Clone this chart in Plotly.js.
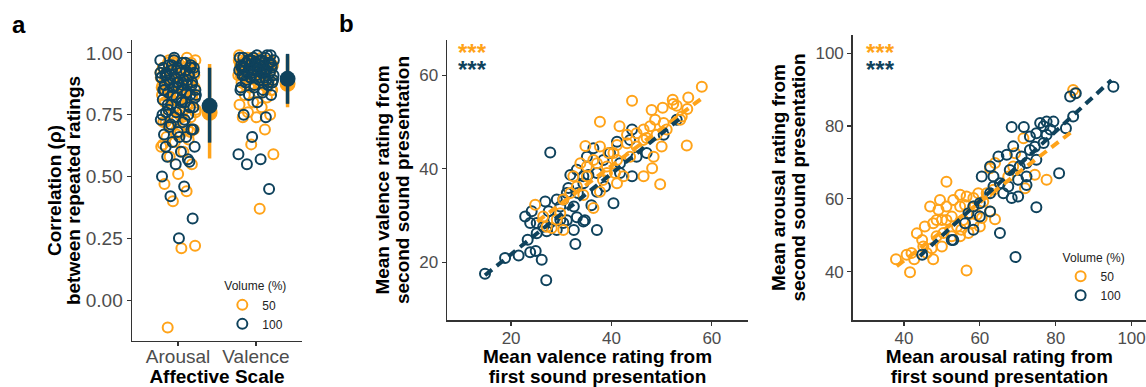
<!DOCTYPE html>
<html>
<head>
<meta charset="utf-8">
<script src="https://cdn.plot.ly/plotly-3.0.1.min.js"></script>
<style>
html,body{margin:0;padding:0;background:#fff;}
#plot{width:1146px;height:387px;}
</style>
</head>
<body>
<div id="plot"></div>
<script>
// ---------- DATA ----------
const scales = ['Arousal', 'Valence'];
const volumes = ['50', '100'];

// Panel a: per-participant correlations between repeated ratings
const arousal50 = [0.98,0.97,0.97,0.96,0.96,0.95,0.95,0.94,0.94,0.93,0.93,0.92,0.92,0.91,0.91,0.90,0.90,0.89,0.89,0.88,0.88,0.87,0.87,0.86,0.86,0.85,0.85,0.84,0.83,0.83,0.82,0.81,0.80,0.80,0.79,0.78,0.77,0.76,0.75,0.74,0.73,0.72,0.71,0.70,0.69,0.68,0.66,0.65,0.64,0.62,0.60,0.58,0.55,0.51,0.47,0.44,0.40,0.22,0.21,-0.11,0.93,0.90,0.87,0.84,0.81,0.78,0.75,0.72,0.69,0.96,0.92,0.88,0.97,0.96,0.95,0.94,0.93,0.92,0.91,0.90,0.89,0.88,0.87,0.86,0.85,0.84,0.83,0.82,0.80,0.79,0.77,0.76,0.74,0.71,0.68,0.67,0.63];
const arousal100 = [0.97,0.97,0.96,0.95,0.95,0.94,0.94,0.93,0.93,0.92,0.92,0.91,0.91,0.90,0.90,0.89,0.89,0.88,0.88,0.87,0.87,0.86,0.85,0.85,0.84,0.83,0.82,0.81,0.80,0.79,0.78,0.77,0.76,0.75,0.74,0.73,0.72,0.70,0.69,0.68,0.67,0.66,0.64,0.62,0.60,0.58,0.56,0.55,0.50,0.46,0.42,0.33,0.25,0.91,0.89,0.86,0.83,0.80,0.77,0.94,0.88,0.85,0.96,0.95,0.94,0.93,0.92,0.91,0.90,0.90,0.89,0.88,0.87,0.86,0.85,0.84,0.83,0.82,0.81,0.79,0.78,0.76,0.75,0.73,0.71,0.69,0.66,0.62,0.57,0.98,0.92,0.87];
const valence50 = [0.99,0.98,0.98,0.97,0.97,0.96,0.96,0.96,0.95,0.95,0.95,0.94,0.94,0.94,0.93,0.93,0.93,0.92,0.92,0.92,0.91,0.91,0.90,0.90,0.89,0.89,0.88,0.87,0.86,0.85,0.84,0.83,0.82,0.80,0.79,0.78,0.76,0.75,0.74,0.74,0.69,0.63,0.59,0.37,0.97,0.95,0.93,0.91,0.89,0.87,0.85,0.96,0.94,0.92,0.98,0.97,0.96,0.95,0.94,0.93,0.92,0.91,0.90,0.89,0.88,0.87,0.86,0.96,0.95,0.93,0.91];
const valence100 = [0.99,0.99,0.98,0.98,0.97,0.97,0.97,0.96,0.96,0.96,0.95,0.95,0.95,0.94,0.94,0.94,0.93,0.93,0.93,0.92,0.92,0.92,0.91,0.91,0.90,0.90,0.89,0.89,0.88,0.87,0.86,0.85,0.84,0.83,0.83,0.80,0.75,0.74,0.66,0.59,0.57,0.55,0.45,0.96,0.94,0.92,0.90,0.88,0.95,0.93,0.99,0.98,0.98,0.97,0.97,0.96,0.95,0.94,0.93,0.92,0.91,0.90,0.89,0.88,0.87,0.86,0.85,0.97,0.95,0.93,0.91,0.89];

// Panel a summaries (mean and interval), order = scales
const mean50 = [0.758, 0.875];
const lo50 = [0.573, 0.780];
const hi50 = [0.955, 0.990];
const mean100 = [0.786, 0.895];
const lo100 = [0.637, 0.794];
const hi100 = [0.940, 0.996];

// Panel b: valence, first vs second presentation
const valFirst50 = [58.0,55.3,52.2,52.3,50.2,55.1,48.0,44.1,37.7,53.7,55.0,50.4,48.7,47.7,46.4,41.6,47.0,50.0,48.4,48.1,49.7,46.4,43.1,41.1,37.7,34.8,45.0,43.7,41.1,39.1,37.1,40.7,42.4,41.1,37.7,36.4,34.4,38.3,33.1,30.4,29.8,28.1,30.4,24.8,26.4,32.4,35.1,39.4,45.0,43.1,46.4,51.0,49.0,54.0,53.0,40.4,36.4,33.8,31.8,29.1,27.1,35.1,39.1];
const valSecond50 = [57.6,55.3,54.8,53.9,53.1,52.8,52.6,54.6,50.1,50.5,45.0,49.8,50.5,49.1,48.4,49.1,46.6,44.8,42.6,40.1,36.7,38.4,45.5,45.1,44.8,44.9,44.8,42.6,41.9,40.5,41.2,39.1,38.4,36.9,35.1,31.6,34.4,37.6,36.2,33.4,30.5,27.3,26.9,32.3,29.8,38.4,40.5,43.4,47.6,47.3,46.2,48.4,47.3,51.2,53.5,43.4,41.9,41.2,34.8,29.1,27.6,38.4,39.1];
const valFirst100 = [14.8,18.8,21.5,23.8,24.9,26.1,27.0,23.3,22.8,24.1,25.1,23.8,26.8,27.8,27.1,29.8,30.4,32.8,32.5,34.4,37.1,40.4,33.1,31.4,31.8,33.1,35.1,36.4,35.4,37.1,38.7,39.7,41.7,43.7,44.1,45.0,44.1,50.4,53.0,41.1,34.4,33.3,31.1,29.8,28.4,26.4,25.1,34.4,32.5,30.4,29.1,37.1,38.4,41.7,47.0,36.0,34.7,31.1,29.1,27.5];
const valSecond100 = [17.5,20.9,21.4,22.1,22.4,20.5,16.1,24.8,29.8,30.9,28.4,28.4,33.0,43.5,26.6,31.9,28.4,23.9,26.9,28.7,26.9,32.6,29.6,35.9,38.7,39.8,42.6,44.4,38.7,35.1,36.2,43.4,39.1,46.2,48.4,42.6,38.4,47.3,50.5,45.8,36.9,34.8,34.8,29.1,29.1,27.6,26.2,38.4,31.9,33.4,33.4,39.1,41.9,41.2,43.4,32.2,29.0,29.0,26.9,30.9];
const valFitX50 = [25.2, 58.0], valFitY50 = [28.7, 55.1];
const valFitX100 = [14.8, 53.7], valFitY100 = [17.2, 50.8];

// Panel c: arousal, first vs second presentation
const arFirst50 = [37.9,40.7,41.6,42.7,47.7,45.1,44.8,45.5,47.7,48.6,50.4,47.3,50.0,51.2,49.1,51.2,52.6,51.2,50.0,54.0,54.8,55.6,56.5,56.1,58.3,59.6,59.2,60.0,60.9,62.7,64.0,63.6,64.0,62.7,56.5,54.8,53.0,58.3,57.0,71.5,71.9,74.5,77.6,84.6,85.1,69.3,68.8,67.5,61.8,46.0,43.4,46.9,49.5,54.8,58.3,52.6,48.6,42.0,55.1,60.5];
const arSecond50 = [43.4,44.6,39.8,43.4,43.4,46.9,48.7,52.4,53.3,49.7,50.6,46.4,46.9,64.7,57.0,57.9,55.1,54.2,54.2,52.4,49.7,54.2,60.6,58.3,57.9,61.5,55.6,52.4,59.2,56.5,54.4,62.5,69.8,68.4,40.3,57.9,59.7,53.3,50.6,76.6,62.9,66.6,65.2,89.9,89.0,72.5,68.9,66.1,61.5,45.1,50.5,57.9,59.7,61.1,60.2,49.7,54.2,45.1,51.5,54.7];
const arFirst100 = [44.8,53.0,58.3,57.0,60.0,62.7,65.3,69.4,68.4,70.1,74.9,72.3,70.1,67.9,65.3,63.6,62.7,60.5,62.7,67.1,68.8,68.4,71.6,71.0,73.2,73.2,74.9,75.9,77.6,79.4,76.8,77.6,74.9,80.9,82.7,84.6,83.8,85.3,95.2,74.5,72.3,58.3,56.1,52.6,63.6,64.9,70.5,72.3,67.5,66.2,76.8,78.6,60.0];
const arSecond100 = [44.6,48.7,51.5,56.0,58.8,56.5,50.6,44.0,60.2,60.6,57.7,63.8,65.2,67.9,64.3,63.4,61.5,66.1,68.9,72.1,74.4,79.7,79.7,71.6,73.4,77.1,78.0,80.8,81.2,81.2,75.3,77.6,70.7,67.0,79.4,82.6,88.1,89.0,90.8,74.3,69.8,57.9,53.3,48.7,66.1,71.6,68.9,66.1,63.4,61.5,79.9,79.0,55.1];
const arFitX50 = [38.1, 84.2], arFitY50 = [41.5, 78.4];
const arFitX100 = [44.2, 94.7], arFitY100 = [44.3, 92.6];

const sigLabel = '***';

// ---------- STYLE ----------
const ORANGE = '#FFA319', NAVY = '#0F425C';
const FONT = 'Liberation Sans, Arial, sans-serif';
const GREY = '#4D4D4D';

// deterministic jitter (horizontal spread of points within a category)
function jitter(n, seed) {
  const out = [];
  for (let i = 0; i < n; i++) {
    const f = ((i + 1) * 0.6180339887 + seed) % 1;
    out.push((f - 0.5) * 0.46);
  }
  return out;
}
function catX(values, catIndex, seed) {
  const j = jitter(values.length, seed);
  return values.map((v, i) => catIndex + 1 + j[i]);
}

const dodge = 0.405;
const summX = scales.map((s, i) => i + 1 + dodge);
function segs(xs, lo, hi) {
  const X = [], Y = [];
  xs.forEach((x, i) => { X.push(x, x, null); Y.push(lo[i], hi[i], null); });
  return {X, Y};
}
const e50 = segs(summX, lo50, hi50);
const e100 = segs(summX, lo100, hi100);

const openMarker = (c) => ({symbol: 'circle-open', size: 10, color: c, line: {width: 2, color: c}});

const traces = [
  // Panel a
  {type: 'scatter', mode: 'markers', name: volumes[0], legend: 'legend',
   x: catX(arousal50, 0, 0.13).concat(catX(valence50, 1, 0.41)),
   y: arousal50.concat(valence50), marker: openMarker(ORANGE), xaxis: 'x', yaxis: 'y'},
  {type: 'scatter', mode: 'markers', name: volumes[1], legend: 'legend',
   x: catX(arousal100, 0, 0.77).concat(catX(valence100, 1, 0.29)),
   y: arousal100.concat(valence100), marker: openMarker(NAVY), xaxis: 'x', yaxis: 'y'},
  {type: 'scatter', mode: 'lines', x: e50.X, y: e50.Y, line: {color: ORANGE, width: 3.5},
   showlegend: false, xaxis: 'x', yaxis: 'y', hoverinfo: 'skip'},
  {type: 'scatter', mode: 'markers', x: summX, y: mean50, marker: {symbol: 'circle', size: 16, color: ORANGE},
   showlegend: false, xaxis: 'x', yaxis: 'y'},
  {type: 'scatter', mode: 'lines', x: e100.X, y: e100.Y, line: {color: NAVY, width: 3.5},
   showlegend: false, xaxis: 'x', yaxis: 'y', hoverinfo: 'skip'},
  {type: 'scatter', mode: 'markers', x: summX, y: mean100, marker: {symbol: 'circle', size: 16, color: NAVY},
   showlegend: false, xaxis: 'x', yaxis: 'y'},
  // Panel b
  {type: 'scatter', mode: 'markers', x: valFirst100, y: valSecond100, marker: openMarker(NAVY),
   showlegend: false, xaxis: 'x2', yaxis: 'y2'},
  {type: 'scatter', mode: 'markers', x: valFirst50, y: valSecond50, marker: openMarker(ORANGE),
   showlegend: false, xaxis: 'x2', yaxis: 'y2'},
  {type: 'scatter', mode: 'lines', x: valFitX50, y: valFitY50, line: {color: ORANGE, width: 4, dash: '9px,6px'},
   showlegend: false, xaxis: 'x2', yaxis: 'y2'},
  {type: 'scatter', mode: 'lines', x: valFitX100, y: valFitY100, line: {color: NAVY, width: 4, dash: '9px,6px'},
   showlegend: false, xaxis: 'x2', yaxis: 'y2'},
  // Panel c
  {type: 'scatter', mode: 'markers', name: volumes[0], legend: 'legend2', x: arFirst50, y: arSecond50,
   marker: openMarker(ORANGE), xaxis: 'x3', yaxis: 'y3'},
  {type: 'scatter', mode: 'markers', name: volumes[1], legend: 'legend2', x: arFirst100, y: arSecond100,
   marker: openMarker(NAVY), xaxis: 'x3', yaxis: 'y3'},
  {type: 'scatter', mode: 'lines', x: arFitX50, y: arFitY50, line: {color: ORANGE, width: 4, dash: '9px,6px'},
   showlegend: false, xaxis: 'x3', yaxis: 'y3'},
  {type: 'scatter', mode: 'lines', x: arFitX100, y: arFitY100, line: {color: NAVY, width: 4, dash: '9px,6px'},
   showlegend: false, xaxis: 'x3', yaxis: 'y3'}
];

// two-line bold title with tight line spacing (spacing set by base font size)
function title2(l1, l2) {
  const s = '<span style="font-size:19px"><b>';
  return s + l1 + '</b></span><br>' + s + l2 + '</b></span>';
}
// stacked significance marks, one per volume
function stars() {
  const s = (c) => '<span style="font-size:24px;color:' + c + '"><b>' + sigLabel + '</b></span>';
  return s(ORANGE) + '<br>' + s(NAVY);
}

const axBase = {
  showline: true, linecolor: '#333333', linewidth: 1.5, ticks: 'outside', ticklen: 4,
  tickcolor: '#333333', tickwidth: 1.2, showgrid: false, zeroline: false,
  tickfont: {family: FONT, size: 17, color: GREY}, automargin: false
};
const titleFont = {family: FONT, size: 15, color: '#000'};

const legendBase = {
  bgcolor: 'rgba(0,0,0,0)', font: {family: FONT, size: 12, color: '#222'},
  itemwidth: 30, tracegroupgap: 0, xanchor: 'left', yanchor: 'top',
  itemclick: false, itemdoubleclick: false
};

const starFont = {family: FONT, size: 13, color: '#000'};

const layout = {
  width: 1146, height: 387,
  margin: {l: 0, r: 0, t: 0, b: 0},
  paper_bgcolor: '#fff', plot_bgcolor: '#fff',
  font: {family: FONT},
  xaxis: Object.assign({}, axBase, {
    domain: [0.1152, 0.2635], range: [0.41, 2.59], anchor: 'y',
    tickvals: [1, 2], ticktext: scales, tickfont: {family: FONT, size: 19, color: GREY},
    ticklabelstandoff: -6,
    title: {text: '<span style="font-size:19px"><b>Affective Scale</b></span>', font: titleFont, standoff: 6}
  }),
  yaxis: Object.assign({}, axBase, {
    domain: [0.1189, 0.8966], range: [-0.165, 1.052], anchor: 'x',
    tickvals: [0, 0.25, 0.5, 0.75, 1], ticktext: ['0.00', '0.25', '0.50', '0.75', '1.00'],
    tickfont: {family: FONT, size: 19, color: GREY},
    title: {text: title2('Correlation (ρ)', 'between repeated ratings'), font: titleFont, standoff: 1}
  }),
  xaxis2: Object.assign({}, axBase, {
    domain: [0.3901, 0.6527], range: [7.24, 67.2], anchor: 'y2', tickvals: [20, 40, 60],
    ticklabelstandoff: -2,
    title: {text: title2('Mean valence rating from', 'first sound presentation'), font: titleFont, standoff: 6}
  }),
  yaxis2: Object.assign({}, axBase, {
    domain: [0.1731, 0.8966], range: [7.6, 67.6], anchor: 'x2', tickvals: [20, 40, 60],
    title: {text: title2('Mean valence rating from', 'second sound presentation'), font: titleFont, standoff: 6}
  }),
  xaxis3: Object.assign({}, axBase, {
    domain: [0.7441, 1.0], range: [26.5, 103.8], anchor: 'y3', tickvals: [40, 60, 80, 100],
    ticklabelstandoff: -2,
    title: {text: title2('Mean arousal rating from', 'first sound presentation'), font: titleFont, standoff: 6}
  }),
  yaxis3: Object.assign({}, axBase, {
    domain: [0.1731, 0.9096], range: [26.7, 105], anchor: 'x3', tickvals: [40, 60, 80, 100],
    title: {text: title2('Mean arousal rating from', 'second sound presentation'), font: titleFont, standoff: 6}
  }),
  legend: Object.assign({}, legendBase, {
    x: 0.194, y: 0.29, title: {text: 'Volume (%)', font: {family: FONT, size: 12, color: '#222'}}
  }),
  legend2: Object.assign({}, legendBase, {
    x: 0.9255, y: 0.364, title: {text: 'Volume (%)', font: {family: FONT, size: 12, color: '#222'}}
  }),
  annotations: [
    {xref: 'paper', yref: 'paper', x: 10/1146, y: 1 - 24/387, xanchor: 'left', yanchor: 'middle',
     text: '<b>a</b>', showarrow: false, font: {family: FONT, size: 24, color: '#000'}},
    {xref: 'paper', yref: 'paper', x: 337/1146, y: 1 - 23/387, xanchor: 'left', yanchor: 'middle',
     text: '<b>b</b>', showarrow: false, font: {family: FONT, size: 24, color: '#000'}},
    {xref: 'paper', yref: 'paper', x: 456/1146, y: 1 - 61/387, xanchor: 'left', yanchor: 'middle', align: 'left',
     text: stars(), showarrow: false, font: starFont},
    {xref: 'paper', yref: 'paper', x: 864/1146, y: 1 - 61/387, xanchor: 'left', yanchor: 'middle', align: 'left',
     text: stars(), showarrow: false, font: starFont}
  ]
};

Plotly.newPlot('plot', traces, layout, {staticPlot: true, displayModeBar: false});
</script>
</body>
</html>
